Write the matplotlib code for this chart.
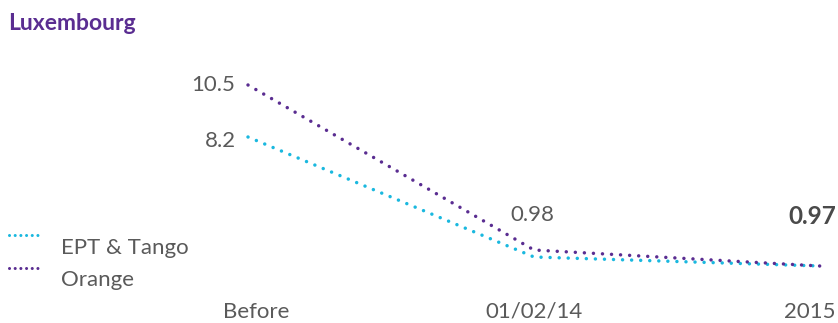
import numpy as np
import matplotlib
matplotlib.use("Agg")
import matplotlib.pyplot as plt
from matplotlib.lines import Line2D
import matplotlib.transforms as mtransforms

plt.rcParams['font.family'] = ['Lato', 'DejaVu Sans']

# ---- data ----
categories = ["Before", "01/02/14", "2015"]
ept_tango = [8.2, 0.975, 0.97]
orange = [10.5, 0.98, 0.97]
series_names = ["EPT & Tango", "Orange"]

PURPLE = "#5a2d91"
CYAN = "#1ab8df"
GRAY = "#5a5a5a"

fig = plt.figure(figsize=(8.38, 3.23), dpi=100)
ax = fig.add_axes([0, 28 / 323, 1, 295 / 323])

# Infographic-style (non-proportional) value scale
kv = np.array([0.9, 0.97, 0.975, 0.98, 8.2, 10.5, 14.0])
kp = np.array([0.0, 29.0, 38.0, 45.0, 158.0, 210.0, 295.0])
ax.set_yscale('function', functions=(lambda v: np.interp(v, kv, kp),
                                     lambda p: np.interp(p, kp, kv)))
ax.set_ylim(0.9, 14.0)

x = np.arange(len(categories))
ax.set_xlim(-248 / 286, 2 + 18 / 286)

ls = (0, (0.01, 2.6))
ax.plot(x, ept_tango, color=CYAN, lw=2.5, linestyle=ls, dash_capstyle='round')
ax.plot(x, orange, color=PURPLE, lw=2.5, linestyle=ls, dash_capstyle='round')

for s in ax.spines.values():
    s.set_visible(False)
ax.set_yticks([])
ax.set_xticks(x)
ax.set_xticklabels(categories, fontsize=16, color=GRAY, fontweight='normal')
ax.tick_params(axis='x', length=0, pad=5)
offs = [8, 0, -10]
for lab, o in zip(ax.get_xticklabels(), offs):
    lab.set_transform(lab.get_transform() + mtransforms.ScaledTranslation(o / 100, 0, fig.dpi_scale_trans))

# value labels
off = lambda dx, dy: mtransforms.offset_copy(ax.transData, fig=fig, x=dx, y=dy, units='points')
ax.text(x[0], orange[0], f"{orange[0]}", transform=off(-9, 0), ha='right', va='center',
        fontsize=16, color=GRAY)
ax.text(x[0], ept_tango[0], f"{ept_tango[0]}", transform=off(-9, -3), ha='right', va='center',
        fontsize=16, color=GRAY)
ax.text(x[1], orange[1], f"{orange[1]:.2f}", transform=off(-1, 25), ha='center', va='center',
        fontsize=16, color=GRAY)
ax.text(x[2], orange[2], f"{orange[2]:.2f}", transform=off(12, 36), ha='right', va='center',
        fontsize=17.5, color="#4a4a4a", fontweight='bold')

# title
fig.text(8 / 838, 1 - 24 / 323, "Luxembourg", fontsize=16.5, fontweight='bold', color=PURPLE,
         ha='left', va='center')

# manual legend
for i, (name, col) in enumerate(zip(series_names, [CYAN, PURPLE])):
    yl = 1 - (235 + 33 * i) / 323
    yt = 1 - (248 + 32 * i) / 323
    fig.add_artist(Line2D([9 / 838, 41 / 838], [yl, yl], color=col, lw=2.2,
                          linestyle=(0, (0.01, 1.85)), dash_capstyle='round',
                          transform=fig.transFigure))
    fig.text(61 / 838, yt, name, fontsize=16, color=GRAY,
             ha='left', va='center')

fig.savefig("out.png", dpi=100)
